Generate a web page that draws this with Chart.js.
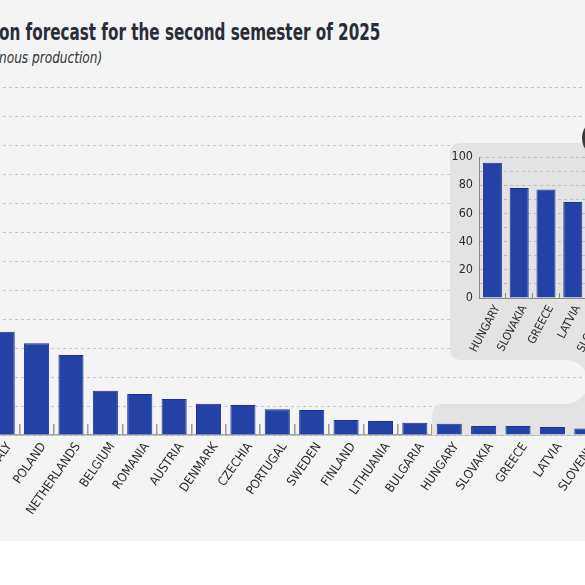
<!DOCTYPE html>
<html>
<head>
<meta charset="utf-8">
<script src="https://cdn.jsdelivr.net/npm/chart.js@4.4.1/dist/chart.umd.min.js"></script>
<style>
  html, body { margin: 0; padding: 0; width: 585px; height: 585px; overflow: hidden; background: #fff; }
  #panel { position: absolute; left: 0; top: 0; width: 585px; height: 541px; background: #f4f4f4; overflow: hidden; }
  #title { position: absolute; left: -1px; top: 19px; font: bold 23px 'DejaVu Sans Condensed', sans-serif; color: #2a2d38;
           white-space: nowrap; transform: scaleX(0.735); transform-origin: 0 0; }
  #subtitle { position: absolute; left: -1px; top: 49px; font: italic 15px 'DejaVu Sans Condensed', sans-serif; color: #333;
              white-space: nowrap; transform: scaleX(0.9); transform-origin: 0 0; }
  #main { position: absolute; left: -40px; top: 0; }
  #inset { position: absolute; left: 450px; top: 143px; }
</style>
</head>
<body>
<div id="panel">
  <div id="title">on forecast for the second semester of 2025</div>
  <div id="subtitle">nous production)</div>
  <canvas id="main" width="644" height="585"></canvas>
  <canvas id="inset" width="163" height="217"></canvas>
</div>
<script>
const countries  = ['ITALY', 'POLAND', 'NETHERLANDS', 'BELGIUM', 'ROMANIA', 'AUSTRIA', 'DENMARK', 'CZECHIA',
                    'PORTUGAL', 'SWEDEN', 'FINLAND', 'LITHUANIA', 'BULGARIA', 'HUNGARY', 'SLOVAKIA', 'GREECE',
                    'LATVIA', 'SLOVENIA'];
const production = [890, 790, 690, 382, 353, 310, 270, 259, 222, 216, 129, 121, 106, 96, 78, 78, 68, 55];

const insetCountries = ['HUNGARY', 'SLOVAKIA', 'GREECE', 'LATVIA', 'SLOVENIA'];
const insetValues    = [96, 78, 77, 68, 55];
const insetTicks     = [0, 20, 40, 60, 80, 100];

const FONT  = "'DejaVu Sans Condensed', sans-serif";
const BLUE  = '#2441a6';
const EDGE  = '#1b3290';
const SHADE = '#e3e3e3';
const OFF   = 40; // main canvas sits 40px left of the page edge

// grey zoom panel, highlight strip and connector, drawn over the grid but under the bars
const backdrop = {
  id: 'backdrop',
  beforeDatasetsDraw(chart) {
    const { ctx, scales: { x, y } } = chart;
    ctx.save();
    ctx.fillStyle = SHADE;

    ctx.beginPath();
    ctx.roundRect(450 + OFF, 143, 220, 217, 10);
    ctx.fill();

    const hx = (x.getPixelForValue(12) + x.getPixelForValue(13)) / 2;
    ctx.beginPath();
    ctx.roundRect(hx, 404, 300, y.bottom - 404, [10, 0, 0, 0]);
    ctx.fill();

    ctx.beginPath();
    ctx.rect(544 + OFF, 356, 120, 52);
    ctx.roundRect(544 + OFF, 360, 44, 44, [0, 22, 22, 0]);
    ctx.fill('evenodd');

    ctx.fillStyle = '#3a3a3a';
    ctx.beginPath();
    ctx.arc(603 + OFF, 138, 21, 0, Math.PI * 2);
    ctx.fill();
    ctx.restore();
  }
};

new Chart(document.getElementById('main'), {
  type: 'bar',
  data: {
    labels: countries,
    datasets: [{
      data: production,
      backgroundColor: BLUE, borderColor: EDGE, borderWidth: 1,
      barPercentage: 0.73, categoryPercentage: 1
    }]
  },
  options: {
    responsive: false, animation: false,
    layout: { padding: { left: 25, top: 87, right: 0, bottom: 0 } },
    plugins: { legend: { display: false }, tooltip: { enabled: false } },
    scales: {
      x: {
        grid: { offset: true, drawOnChartArea: false, tickLength: -11, color: '#9a9a9a', lineWidth: 1.5 },
        border: { color: '#a3a3a3', width: 1.5 },
        ticks: { color: '#2a2a2a', font: { family: FONT, size: 12.5 }, minRotation: 55, maxRotation: 55,
                 autoSkip: false, padding: 16, labelOffset: 7 },
        afterFit: s => { s.height = 150; s.paddingLeft = 0; s.paddingRight = 0; }
      },
      y: {
        min: 0, max: 3000,
        ticks: { display: false, stepSize: 250 },
        grid: { color: '#c6c6c6', drawTicks: false },
        border: { display: false, dash: [3, 3] },
        afterFit: s => { s.width = 0; s.paddingTop = 0; s.paddingBottom = 0; }
      }
    }
  },
  plugins: [backdrop]
});

new Chart(document.getElementById('inset'), {
  type: 'bar',
  data: {
    labels: insetCountries,
    datasets: [{
      data: insetValues,
      backgroundColor: BLUE, borderColor: EDGE, borderWidth: 1,
      barPercentage: 0.71, categoryPercentage: 1
    }]
  },
  options: {
    responsive: false, animation: false,
    layout: { padding: { left: 0, top: 14, right: 0, bottom: 0 } },
    plugins: { legend: { display: false }, tooltip: { enabled: false } },
    scales: {
      x: {
        grid: { offset: true, drawOnChartArea: false, tickLength: -5, color: '#8a8a8a' },
        border: { color: '#8a8a8a' },
        ticks: { color: '#2a2a2a', font: { family: FONT, size: 11.5 }, minRotation: 62, maxRotation: 62,
                 autoSkip: false, padding: 10, labelOffset: 5 },
        afterFit: s => { s.height = 62; s.paddingLeft = 0; s.paddingRight = 0; }
      },
      y: {
        min: 0, max: 100,
        ticks: {
          stepSize: 10, autoSkip: false, padding: 6,
          color: '#2a2a2a', font: { family: FONT, size: 12.5 },
          callback: v => insetTicks.includes(v) ? v : ''
        },
        grid: { color: '#bdbdbd', drawTicks: false },
        border: { color: '#8a8a8a', dash: [3, 3] },
        afterFit: s => { s.width = 29; s.paddingTop = 0; s.paddingBottom = 0; }
      }
    }
  }
});
</script>
</body>
</html>
